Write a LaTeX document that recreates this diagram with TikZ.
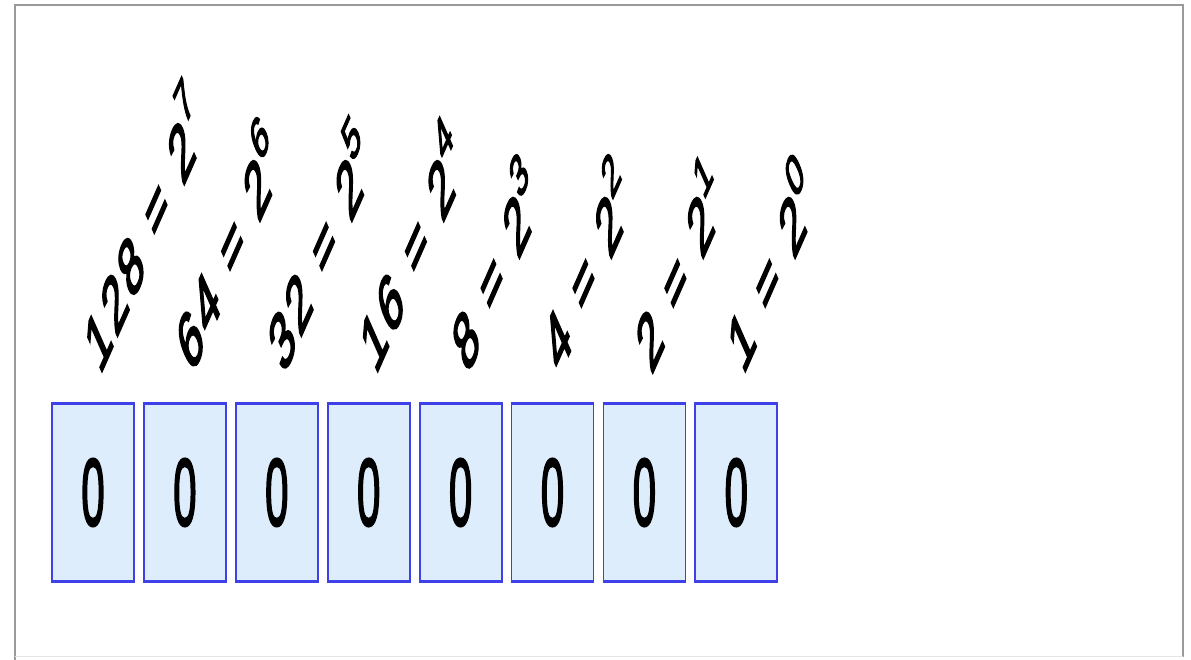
\documentclass[tikz,border=0pt]{standalone}
\usepackage{fontspec}
\setmainfont{Liberation Sans}
\newfontfamily\labelfont[LetterSpace=8, FakeBold=3.5]{Liberation Sans}
\newfontfamily\digitfont[FakeBold=3]{Liberation Sans}
\definecolor{boxblue}{HTML}{4040E8}
\definecolor{boxfill}{HTML}{DDEDFC}
\definecolor{framegray}{HTML}{9A9A9A}
\tikzset{
  bitbox/.style={draw=boxblue, fill=boxfill, line width=1.8pt, minimum width=82pt, minimum height=177pt, inner sep=0pt},
  bitedge/.style={boxblue, line width=3pt},
  digit/.style={font=\digitfont\fontsize{95}{95}\selectfont, xscale=0.44, inner sep=0pt},
  weight/.style={font=\labelfont\fontsize{82}{82}\selectfont, anchor=base west, xscale=0.44, rotate=45, inner sep=0pt},
}
\newcommand{\pw}[1]{\raisebox{0.48em}{\fontsize{60}{60}\selectfont #1}}
\newcommand{\eqs}{\hspace{0.42em}=\hspace{0.42em}}
\begin{document}
\begin{tikzpicture}[x=1pt,y=1pt]
\useasboundingbox (0,0) rectangle (1191,660);
\fill[white] (0,0) rectangle (1191,660);
% frame
\draw[framegray, line width=1.3pt] (15,0) -- (15,655) -- (1183,655) -- (1183,3);
\draw[gray!20, line width=1pt] (15,3) -- (1183,3);
% boxes
\foreach \i [evaluate=\i as \cx using {93+91.9*(\i-1)}] in {1,...,8}{
  \node[bitbox] (b\i) at (\cx,167.5) {};
  \draw[bitedge] (b\i.north west) -- (b\i.north east);
  \draw[bitedge] (b\i.south west) -- (b\i.south east);
  \node[digit] (d\i) at (b\i.center) {0};
}
% weights
\foreach \i/\v/\e in {1/128/7,2/64/6,3/32/5,4/16/4,5/8/3,6/4/2,7/2/1,8/1/0}{
  \coordinate (p\i) at ([xshift=7pt,yshift=27pt]b\i.north);
  \node[weight] (w\i) at (p\i) {\v\eqs 2\pw{\e}};
}
\end{tikzpicture}
\end{document}
